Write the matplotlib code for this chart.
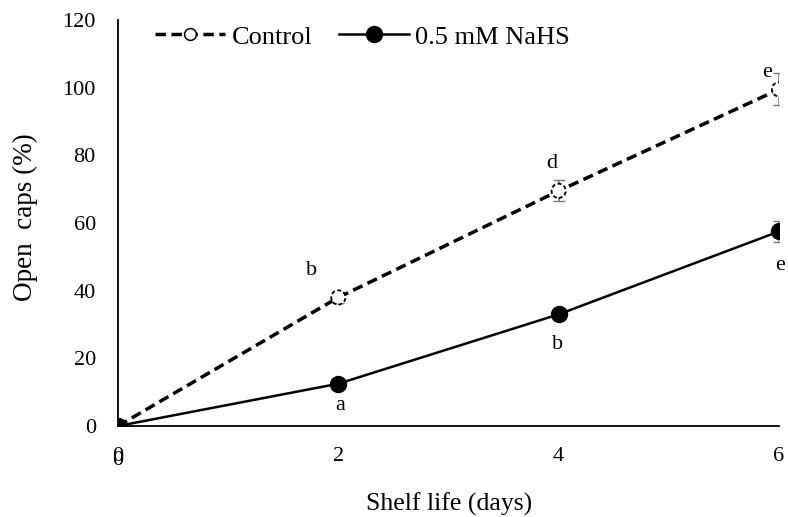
import matplotlib
matplotlib.use("Agg")
import matplotlib.pyplot as plt
from matplotlib.lines import Line2D

plt.rcParams['font.family'] = ['Liberation Serif', 'DejaVu Serif']

days = [0, 2, 4, 6]
control = [0, 38, 69.5, 99.5]
control_err = [0, 1.5, 3.1, 4.7]
nahs = [0, 12.5, 33, 57.5]
nahs_err = [0, 0.8, 1.2, 3.0]

control_letters = ['b', 'd', 'e']
nahs_letters = ['a', 'b', 'e']

fig = plt.figure(figsize=(7.88, 5.17), dpi=100)
ax = fig.add_axes([118/788, 1 - 426/517, (779-118)/788, (426-20)/517])

ax.errorbar(days, control, yerr=control_err, fmt='none', ecolor='#7a7a7a',
            elinewidth=1.2, capsize=4, zorder=2)
ax.errorbar(days, nahs, yerr=nahs_err, fmt='none', ecolor='#7a7a7a',
            elinewidth=1.2, capsize=4, zorder=2)

ax.plot(days, control, ls=(0, (3, 1.6)), lw=2.5, color='black', zorder=3)
# hollow markers with a dashed rim
ax.scatter(days, control, s=105, facecolors='white', edgecolors='black',
           linewidths=1.3, linestyles=(0, (2.2, 1.4)), zorder=4)
nahs_line, = ax.plot(days, nahs, ls='-', lw=1.8, color='black', marker='o',
                     ms=11.5, mfc='black', mec='black', zorder=4)

# significance letters
ax.text(1.76, 46, control_letters[0], fontsize=16, ha='center', va='center')
ax.text(3.94, 77.7, control_letters[1], fontsize=16, ha='center', va='center')
ax.text(5.89, 104.4, control_letters[2], fontsize=16, ha='center', va='center')
ax.text(2.02, 6.2, nahs_letters[0], fontsize=16, ha='center', va='center')
ax.text(3.99, 24.2, nahs_letters[1], fontsize=16, ha='center', va='center')
ax.text(6.01, 47.3, nahs_letters[2], fontsize=16, ha='center', va='center')

ax.set_xlim(0, 6)
ax.set_ylim(0, 120)
ax.set_xticks([0, 2, 4, 6])
ax.set_yticks(range(0, 121, 20))
ax.tick_params(length=0, labelsize=16)
ax.tick_params(axis='y', pad=16)
ax.tick_params(axis='x', pad=15)
# doubled zero under the origin, as in the original
ax.text(0, -7.4, '0', fontsize=16, ha='center', va='top', clip_on=False)
for s in ['top', 'right']:
    ax.spines[s].set_visible(False)
for s in ['left', 'bottom']:
    ax.spines[s].set_linewidth(1.3)

fig.text(449/788, 1 - 504/517, 'Shelf life (days)', fontsize=18.5, ha='center', va='center')
fig.text(25/788, 1 - 217/517, 'Open  caps (%)', fontsize=19.5, ha='center', va='center',
         rotation=90)

ctrl_leg = Line2D([], [], ls=(0, (3, 1.6)), lw=2.5, color='black', marker='o',
                  ms=8.5, mfc='white', mec='black', mew=1.1)
fig.legend([ctrl_leg, nahs_line], ['Control', '0.5 mM NaHS'],
           loc='center left', bbox_to_anchor=(155/788, 1 - 37/517), ncol=2,
           frameon=False, fontsize=19, handlelength=2.65, columnspacing=1.0,
           handletextpad=0.25, borderpad=0, borderaxespad=0)

fig.savefig('out.png', dpi=100)
